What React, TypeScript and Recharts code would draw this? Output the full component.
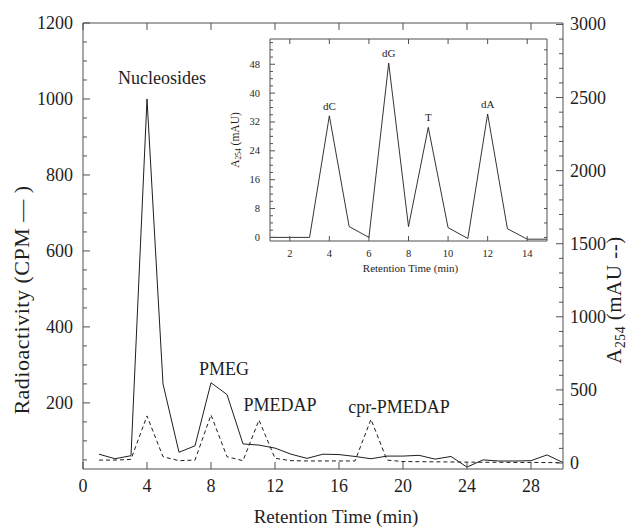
import React from "react";
import { LineChart, Line, XAxis, YAxis, ReferenceDot } from "recharts";

const SERIF = '"Liberation Serif", "Times New Roman", Times, serif';
const INK = "#1e1e1e";
const FRAME = "#505050";

// main run, one reading per minute
const minutes = [1, 2, 3, 4, 5, 6, 7, 8, 9, 10, 11, 12, 13, 14, 15, 16, 17, 18, 19, 20, 21, 22, 23, 24, 25, 26, 27, 28, 29, 30];
const radioactivity = [65, 53, 61, 1000, 250, 70, 87, 253, 222, 92, 89, 81, 65, 54, 65, 64, 59, 53, 60, 60, 62, 52, 59, 31, 50, 47, 47, 48, 63, 43];
const absorbance = [20, 20, 25, 322, 43, 16, 20, 329, 43, 16, 294, 32, 16, 14, 14, 14, 14, 299, 20, 10, 9, 8, 7, 6, 5, 5, 4, 4, 3, 3];

const timeTicks = [0, 4, 8, 12, 16, 20, 24, 28];
const cpmTicks = [200, 400, 600, 800, 1000, 1200];
const mauTicks = [0, 500, 1000, 1500, 2000, 2500, 3000];

const peakNames = ["Nucleosides", "PMEG", "PMEDAP", "cpr-PMEDAP"];
const peakTimes = [4, 8, 11, 18];
const peakTrace = ["cpm", "cpm", "mau", "mau"];

// inset: nucleoside standards
const insetMinutes = [1, 2, 3, 4, 5, 6, 7, 8, 9, 10, 11, 12, 13, 14, 15];
const insetAbsorbance = [0, 0, 0, 33.7, 3, 0, 48.3, 3, 30.5, 2.7, -0.3, 34.2, 2.4, -0.5, -0.5];
const insetTimeTicks = [2, 4, 6, 8, 10, 12, 14];
const insetAbsTicks = [0, 8, 16, 24, 32, 40, 48];
const standardNames = ["dC", "dG", "T", "dA"];
const standardTimes = [4, 7, 9, 12];

const mainRows = minutes.map((t, i) => ({ t, cpm: radioactivity[i], mau: absorbance[i] }));
const insetRows = insetMinutes.map((t, i) => ({ t, a: insetAbsorbance[i] }));

const steps = (from: number, to: number, by: number) => {
  const out: number[] = [];
  for (let v = from; v <= to + 1e-9; v += by) out.push(v);
  return out;
};

// label nudges in px (centre of text relative to the peak apex)
const peakNudge = [
  [15, -21],
  [13, -14],
  [21, -15],
  [28, -12],
];

type Side = "left" | "right" | "bottom" | "top";

function makeTick(side: Side, majors: number[], o: { major: number; minor: number; gap: number; size: number; text: boolean }) {
  return (props: any) => {
    const { x, y, payload } = props;
    const v = payload.value;
    const isMajor = majors.includes(v);
    const len = isMajor ? o.major : o.minor;
    let line: React.ReactNode = null;
    let label: React.ReactNode = null;
    const txt = { fill: INK, stroke: "none", style: { fontFamily: SERIF, fontSize: o.size } };
    if (side === "left") {
      const ax = x + o.gap;
      line = <line x1={ax} y1={y} x2={ax + len} y2={y} />;
      if (isMajor && o.text) label = <text x={x} y={y} textAnchor="end" dominantBaseline="central" {...txt}>{v}</text>;
    } else if (side === "right") {
      const ax = x - o.gap;
      line = <line x1={ax} y1={y} x2={ax - len} y2={y} />;
      if (isMajor && o.text) label = <text x={x} y={y} textAnchor="start" dominantBaseline="central" {...txt}>{v}</text>;
    } else if (side === "bottom") {
      const ay = y - o.gap;
      line = <line x1={x} y1={ay} x2={x} y2={ay - len} />;
      if (isMajor && o.text) label = <text x={x} y={y} textAnchor="middle" dominantBaseline="central" {...txt}>{v}</text>;
    } else {
      const ay = y + o.gap;
      line = <line x1={x} y1={ay} x2={x} y2={ay + len} />;
    }
    return (
      <g stroke={FRAME} strokeWidth={1}>
        {line}
        {label}
      </g>
    );
  };
}

function AxisTitle(props: any) {
  const vb = props.viewBox || { x: 0, y: 0, width: 0, height: 0 };
  const cx = vb.x + vb.width / 2 + (props.offX || 0);
  const cy = vb.y + vb.height / 2 + (props.offY || 0);
  const rot = props.rotate ? `rotate(-90 ${cx} ${cy})` : undefined;
  const s = props.size;
  return (
    <text x={cx} y={cy} transform={rot} textAnchor="middle" dominantBaseline="central" fill={INK} style={{ fontFamily: SERIF, fontSize: s, letterSpacing: props.spacing || 0 }}>
      {props.sub ? (
        <>
          {props.lead}
          <tspan dy={s * 0.3} style={{ fontSize: s * 0.65 }}>{props.sub}</tspan>
          <tspan dy={-s * 0.3}>{props.rest}</tspan>
        </>
      ) : (
        props.lead
      )}
    </text>
  );
}

function PeakTag(props: any) {
  const vb = props.viewBox || { x: 0, y: 0, width: 0, height: 0 };
  const cx = vb.x + (vb.width || 0) / 2;
  const cy = vb.y + (vb.height || 0) / 2;
  return (
    <text x={cx + props.offX} y={cy + props.offY} textAnchor="middle" dominantBaseline="central" fill={INK} style={{ fontFamily: SERIF, fontSize: props.size }}>
      {props.text}
    </text>
  );
}

const mainTick = { major: 7, minor: 4, size: 18, text: true };
const insetTick = { major: 5, minor: 3, size: 10.5, text: true };

function Inset() {
  return (
    <LineChart width={400} height={265} data={insetRows} margin={{ top: 18, right: 52, bottom: 43, left: 69 }}>
      <XAxis xAxisId="b" dataKey="t" type="number" domain={[1, 15]} allowDataOverflow ticks={insetTimeTicks} interval={0} height={1} tickSize={0} tickLine={false} tickMargin={12} axisLine={{ stroke: FRAME }} tick={makeTick("bottom", insetTimeTicks, { ...insetTick, gap: 12 })} label={<AxisTitle lead="Retention Time (min)" size={11} offX={2} offY={26} />} />
      <XAxis xAxisId="top" orientation="top" dataKey="t" type="number" domain={[1, 15]} allowDataOverflow ticks={insetTimeTicks} interval={0} height={1} tickSize={0} tickLine={false} tickMargin={0} axisLine={{ stroke: FRAME }} tick={makeTick("top", insetTimeTicks, { ...insetTick, gap: 0, text: false })} />
      <YAxis yAxisId="l" type="number" domain={[-1, 55]} allowDataOverflow ticks={steps(0, 54, 2)} interval={0} width={1} tickSize={0} tickLine={false} tickMargin={10} axisLine={{ stroke: FRAME }} tick={makeTick("left", insetAbsTicks, { ...insetTick, gap: 10 })} label={<AxisTitle lead="A" sub="254" rest=" (mAU)" size={11.5} rotate offX={-35} offY={0} />} />
      <YAxis yAxisId="r" orientation="right" type="number" domain={[-1, 55]} allowDataOverflow ticks={steps(0, 52, 4)} interval={0} width={1} tickSize={0} tickLine={false} tickMargin={0} axisLine={{ stroke: FRAME }} tick={makeTick("right", steps(0, 52, 4), { ...insetTick, major: 3, gap: 0, text: false })} />
      <Line xAxisId="b" yAxisId="l" type="linear" dataKey="a" stroke={INK} strokeWidth={0.9} dot={false} activeDot={false} isAnimationActive={false} />
      {standardNames.map((name, i) => (
        <ReferenceDot key={name} xAxisId="b" yAxisId="l" x={standardTimes[i]} y={insetAbsorbance[insetMinutes.indexOf(standardTimes[i])]} r={0} fill="none" stroke="none" label={<PeakTag text={name} size={11} offX={0} offY={-10} />} />
      ))}
    </LineChart>
  );
}

export default function App() {
  return (
    <div style={{ position: "relative", width: 634, height: 529, background: "#fff" }}>
      <style>{"body{margin:0}"}</style>
      <LineChart width={634} height={529} data={mainRows} margin={{ top: 22, right: 70, bottom: 59, left: 82 }}>
        <XAxis xAxisId="t" dataKey="t" type="number" domain={[0, 30]} allowDataOverflow ticks={timeTicks} interval={0} height={1} tickSize={0} tickLine={false} tickMargin={17} axisLine={{ stroke: FRAME }} tick={makeTick("bottom", timeTicks, { ...mainTick, gap: 17 })} label={<AxisTitle lead="Retention Time (min)" size={19} offX={13} offY={47} />} />
        <XAxis xAxisId="top" orientation="top" dataKey="t" type="number" domain={[0, 30]} allowDataOverflow ticks={timeTicks} interval={0} height={1} tickSize={0} tickLine={false} tickMargin={0} axisLine={{ stroke: FRAME }} tick={makeTick("top", timeTicks, { ...mainTick, gap: 0, text: false })} />
        <YAxis yAxisId="cpm" type="number" domain={[26, 1200]} allowDataOverflow ticks={steps(50, 1200, 50)} interval={0} width={1} tickSize={0} tickLine={false} tickMargin={10} axisLine={{ stroke: FRAME }} tick={makeTick("left", cpmTicks, { ...mainTick, gap: 10 })} label={<AxisTitle lead="Radioactivity (CPM — )" size={22} spacing={0.5} rotate offX={-61} offY={54} />} />
        <YAxis yAxisId="mau" orientation="right" type="number" domain={[-41, 3010]} allowDataOverflow ticks={steps(0, 3000, 100)} interval={0} width={1} tickSize={0} tickLine={false} tickMargin={7} axisLine={{ stroke: FRAME }} tick={makeTick("right", mauTicks, { ...mainTick, gap: 7 })} label={<AxisTitle lead="A" sub="254" rest=" (mAU --)" size={21} spacing={0.5} rotate offX={50} offY={54} />} />
        <Line xAxisId="t" yAxisId="cpm" type="linear" dataKey="cpm" stroke={INK} strokeWidth={1} dot={false} activeDot={false} isAnimationActive={false} />
        <Line xAxisId="t" yAxisId="mau" type="linear" dataKey="mau" stroke={INK} strokeWidth={1} strokeDasharray="4 3" dot={false} activeDot={false} isAnimationActive={false} />
        {peakNames.map((name, i) => {
          const idx = minutes.indexOf(peakTimes[i]);
          const onCpm = peakTrace[i] === "cpm";
          return (
            <ReferenceDot key={name} xAxisId="t" yAxisId={onCpm ? "cpm" : "mau"} x={peakTimes[i]} y={onCpm ? radioactivity[idx] : absorbance[idx]} r={0} fill="none" stroke="none" label={<PeakTag text={name} size={18} offX={peakNudge[i][0]} offY={peakNudge[i][1]} />} />
          );
        })}
      </LineChart>
      <div style={{ position: "absolute", left: 200, top: 20 }}>
        <Inset />
      </div>
    </div>
  );
}
